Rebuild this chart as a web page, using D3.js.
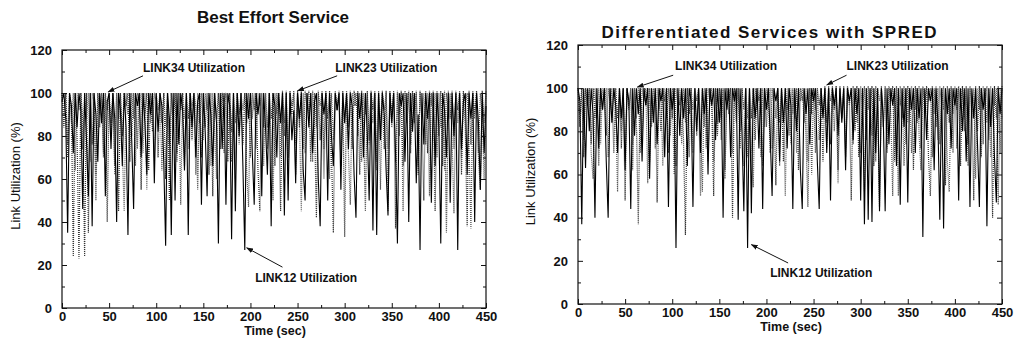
<!DOCTYPE html>
<html><head><meta charset="utf-8">
<script src="https://cdn.jsdelivr.net/npm/d3@7"></script>
<style>
body{margin:0;background:#fff;}
svg{display:block;}
text{font-family:"Liberation Sans",Arial,sans-serif;fill:#111;}
</style></head>
<body>
<svg id="c" width="1017" height="340"></svg>
<script>
// time axis: one sample every 2 s from 0 to 450
const timeStep = 2;
const xTicks = [0,50,100,150,200,250,300,350,400,450];
const yTicks = [0,20,40,60,80,100,120];
const titles = ["Best Effort Service", "Differentiated Services with SPRED"];

// ---- Best Effort Service ----
const beLink12 = [
96,100,88,35,100,94,72,100,84,100,
92,46,100,78,52,100,38,100,90,68,
100,86,100,52,96,100,74,100,88,40,
100,92,66,100,84,34,100,78,46,100,
94,100,70,100,86,62,100,90,100,58,
100,82,100,94,68,29,100,88,34,100,
50,100,76,100,92,64,100,34,100,84,
100,70,96,100,48,100,82,52,100,90,
66,100,86,30,100,74,100,48,100,94,
32,100,45,100,80,100,66,27,100,88,
100,72,48,100,90,100,52,100,84,62,
100,38,100,94,70,100,86,100,43,100,
50,100,78,92,58,100,88,100,64,50,
100,84,100,72,96,100,60,38,100,90,
100,50,100,80,66,100,92,100,55,100,
86,100,74,100,94,62,42,100,88,100,
70,100,82,50,100,36,100,34,100,78,
100,90,64,43,100,86,100,72,30,100,
94,100,68,100,40,100,82,100,58,90,
27,100,76,100,88,100,49,100,66,100,
84,30,100,92,70,100,49,100,80,100,
27,100,74,96,100,62,100,88,100,40,
100,86,55,100,72,94];
const beLink23 = [
100,84,100,70,100,92,24,100,80,23,
100,88,24,100,35,100,76,100,62,100,
90,100,72,100,40,100,86,100,66,100,
45,100,80,100,94,100,68,100,88,100,
74,100,55,100,90,100,64,100,82,100,
96,70,100,86,100,60,100,50,100,84,
100,72,100,92,100,66,100,88,100,78,
100,94,55,100,70,100,84,100,62,100,
52,100,88,100,74,100,96,100,68,100,
82,100,60,100,90,100,76,100,86,100,
70,100,92,100,64,45,100,84,100,74,
100,88,100,66,100,92,45,101,80,101,
70,101,90,101,62,101,84,101,74,101,
94,101,68,101,86,42,101,78,101,60,
101,88,101,72,35,101,92,101,66,101,
33,101,84,101,74,101,94,101,62,101,
86,45,101,78,101,92,101,68,101,84,
101,74,101,45,101,90,101,37,101,80,
101,66,101,92,101,76,101,86,101,62,
101,88,50,101,72,101,94,101,45,101,
80,101,66,101,35,101,88,101,74,101,
92,101,62,101,84,38,101,76,101,90,
101,70,55,101,86,101];
const beLink34 = [
100,90,100,76,100,86,100,64,100,92,
100,74,100,88,100,68,100,96,50,100,
84,100,70,100,92,100,78,100,62,100,
88,100,74,45,100,90,100,80,100,66,
100,94,100,72,100,55,100,86,100,70,
100,92,100,64,100,84,100,76,100,90,
100,68,100,48,100,88,100,74,100,94,
100,62,100,86,100,78,100,92,100,66,
100,84,60,100,90,100,72,100,96,100,
68,100,86,100,76,100,92,100,64,47,
100,88,100,74,100,94,100,66,100,84,
100,78,50,100,90,100,70,100,86,100,
62,100,94,100,76,100,88,45,100,72,
100,90,100,68,100,84,100,94,100,74,
100,86,60,100,78,100,92,100,66,100,
88,100,72,48,100,94,100,80,100,68,
100,90,100,76,100,86,100,64,100,55,
100,92,100,74,100,84,100,68,100,90,
100,45,100,86,100,72,100,94,100,66,
100,88,100,76,100,52,100,90,100,70,
100,84,100,64,100,92,100,78,44,100,
86,100,70,100,94,100,76,37,100,88,
100,72,100,90,60,100];

// ---- Differentiated Services with SPRED ----
const dsLink12 = [
100,94,37,100,63,100,80,100,88,40,
100,72,100,90,100,66,40,100,84,100,
92,70,100,86,100,62,100,94,44,100,
78,100,88,100,66,100,92,100,58,100,
84,100,74,100,94,100,68,100,45,100,
90,100,26,100,78,100,86,100,64,100,
94,45,100,80,100,70,100,88,100,60,
100,92,100,76,100,84,100,40,100,90,
100,68,100,94,100,39,100,80,43,100,
26,100,42,100,86,100,72,100,44,100,
90,100,78,50,100,94,100,66,100,84,
100,72,100,92,44,100,80,100,62,44,
100,88,100,74,100,94,100,66,44,100,
86,100,70,100,48,100,92,100,78,100,
84,100,62,100,94,100,76,100,88,100,
48,100,37,100,39,100,38,100,70,100,
43,100,86,43,100,74,100,92,100,64,
100,46,100,82,100,47,100,90,100,70,
100,86,100,31,100,76,100,94,100,62,
100,84,39,100,35,100,88,100,72,100,
92,100,48,100,80,100,66,100,45,100,
86,100,74,45,100,90,100,36,100,82,
100,68,47,100,88,100];
const dsLink23 = [
100,82,100,68,100,92,100,74,100,86,
100,64,100,90,100,78,100,94,100,70,
100,86,100,72,100,48,100,90,100,62,
100,84,37,100,76,100,92,100,66,100,
88,100,47,100,80,100,94,100,70,100,
86,100,64,100,92,100,76,32,100,88,
100,70,100,94,100,50,100,82,100,66,
100,90,50,100,78,100,86,100,62,100,
94,100,40,100,84,100,72,100,90,100,
68,100,86,100,76,100,94,100,64,100,
82,100,70,100,92,55,100,84,100,66,
100,90,100,74,100,86,100,62,100,94,
100,78,45,100,88,100,70,100,92,100,
66,101,84,101,74,101,90,101,62,101,
86,101,72,101,94,48,101,80,101,68,
101,90,101,76,101,86,101,64,101,92,
45,101,82,101,70,101,94,101,66,101,
50,101,86,101,74,101,90,101,62,101,
84,101,72,101,94,101,68,50,101,88,
101,76,101,92,101,55,101,84,101,70,
101,90,101,64,101,86,101,74,101,94,
48,101,80,101,68,101,92,101,76,101,
40,101,86,101,70,101];
const dsLink34 = [
100,88,100,76,100,92,100,70,58,100,
86,100,74,100,94,100,68,100,84,100,
90,52,100,80,100,66,100,92,100,74,
100,86,100,70,100,94,100,56,100,82,
100,72,100,90,100,64,100,86,100,78,
100,60,100,92,100,74,100,84,100,68,
100,90,100,78,100,86,52,100,72,100,
94,100,66,100,84,100,76,100,58,100,
88,100,70,100,92,100,80,100,64,100,
86,100,74,54,100,90,100,68,100,82,
100,94,100,72,100,86,100,64,100,90,
50,100,78,100,88,100,70,100,94,100,
84,100,66,100,60,100,90,100,76,100,
88,100,72,100,94,100,80,100,56,100,
86,100,68,100,92,100,74,100,84,100,
70,100,52,100,90,100,78,100,66,100,
94,100,82,100,72,100,88,50,100,76,
100,92,100,64,100,84,100,70,100,90,
100,78,62,100,86,100,94,100,68,100,
82,100,74,100,90,100,66,52,100,88,
100,72,100,94,100,80,100,64,100,86,
100,58,100,90,100,74,100,84,100,68,
100,92,100,46,100,86];

// annotations in data units: [label, textT, textV, fromT, fromV, toT, toV]
const beNotes = [
  ["LINK34 Utilization", 86, 110, 86, 108, 49, 100.5],
  ["LINK23 Utilization", 290, 110, 292, 108, 250, 101],
  ["LINK12 Utilization", 205, 12, 234, 19, 196, 28]
];
const dsNotes = [
  ["LINK34 Utilization", 103, 108.5, 101, 106, 63, 100.5],
  ["LINK23 Utilization", 285, 108.5, 285, 106, 264, 101.5],
  ["LINK12 Utilization", 204, 12.5, 223, 19, 184, 27.5]
];

const svg = d3.select("#c");
const defs = svg.append("defs");
defs.append("marker").attr("id","ah").attr("viewBox","0 0 10 10")
  .attr("refX",9).attr("refY",5).attr("markerWidth",7).attr("markerHeight",7)
  .attr("markerUnits","userSpaceOnUse").attr("orient","auto")
  .append("path").attr("d","M0,1.5 L10,5 L0,8.5 Z").attr("fill","#111");

function panel(cfg){
  const g = svg.append("g");
  const x = d3.scaleLinear().domain([0,450]).range([cfg.x0, cfg.x1]);
  const y = d3.scaleLinear().domain([0,120]).range([cfg.y0, cfg.y1]);

  const line = d3.line().x((d,i)=>x(i*timeStep)).y(d=>y(d));
  const styles = [
    {data: cfg.s34, stroke:"#5a5a5a", dash:"1,1", w:1.2},
    {data: cfg.s23, stroke:"#333", dash:"1,1", w:1.2},
    {data: cfg.s12, stroke:"#000", dash:null, w:1.1}
  ];
  styles.forEach(s=>{
    g.append("path").datum(s.data).attr("d",line).attr("fill","none")
      .attr("stroke",s.stroke).attr("stroke-width",s.w)
      .attr("stroke-dasharray",s.dash);
  });

  // frame
  g.append("rect").attr("x",cfg.x0).attr("y",cfg.y1)
    .attr("width",cfg.x1-cfg.x0).attr("height",cfg.y0-cfg.y1)
    .attr("fill","none").attr("stroke","#111").attr("stroke-width",1.2);

  const minorX = d3.range(25,450,50);
  const minorY = d3.range(10,120,20);
  const fmt = d3.format("d");
  g.append("g").attr("transform",`translate(0,${cfg.y0})`)
    .call(d3.axisBottom(x).tickValues(xTicks).tickFormat(fmt).tickSize(-5).tickPadding(4));
  g.append("g").attr("transform",`translate(0,${cfg.y0})`)
    .call(d3.axisBottom(x).tickValues(minorX).tickFormat("").tickSize(-3));
  g.append("g").attr("transform",`translate(0,${cfg.y1})`)
    .call(d3.axisTop(x).tickValues(xTicks).tickFormat("").tickSize(-5));
  g.append("g").attr("transform",`translate(0,${cfg.y1})`)
    .call(d3.axisTop(x).tickValues(minorX).tickFormat("").tickSize(-3));
  g.append("g").attr("transform",`translate(${cfg.x0},0)`)
    .call(d3.axisLeft(y).tickValues(yTicks).tickFormat(fmt).tickSize(-5).tickPadding(10));
  g.append("g").attr("transform",`translate(${cfg.x0},0)`)
    .call(d3.axisLeft(y).tickValues(minorY).tickFormat("").tickSize(-3));
  g.append("g").attr("transform",`translate(${cfg.x1},0)`)
    .call(d3.axisRight(y).tickValues(yTicks).tickFormat("").tickSize(-5));
  g.append("g").attr("transform",`translate(${cfg.x1},0)`)
    .call(d3.axisRight(y).tickValues(minorY).tickFormat("").tickSize(-3));
  g.selectAll(".domain").remove();
  g.selectAll(".tick line").attr("stroke","#111");
  g.selectAll(".tick text").attr("font-size",13).attr("font-weight","bold")
    .attr("fill","#111").style("font-family","'Liberation Sans',Arial,sans-serif");

  // titles and axis labels
  const t = g.append("text").attr("x",cfg.titleX).attr("y",cfg.titleY).attr("text-anchor","middle")
    .attr("font-size",cfg.titleSize).attr("font-weight","bold").text(cfg.title);
  if (cfg.titleLen) t.attr("textLength",cfg.titleLen).attr("lengthAdjust","spacing");
  g.append("text").attr("x",(cfg.x0+cfg.x1)/2+1).attr("y",cfg.y0+27).attr("text-anchor","middle")
    .attr("font-size",12.5).attr("font-weight","bold").text("Time (sec)");
  g.append("text").attr("transform",`translate(${cfg.ylabX},${(cfg.y0+cfg.y1)/2-3}) rotate(-90)`)
    .attr("text-anchor","middle").attr("font-size",13)
    .style("font-family","'Liberation Sans Narrow','Liberation Sans',Arial,sans-serif")
    .text("Link Utilization (%)");

  // annotations
  cfg.notes.forEach(n=>{
    g.append("line").attr("x1",x(n[3])).attr("y1",y(n[4])).attr("x2",x(n[5])).attr("y2",y(n[6]))
      .attr("stroke","#111").attr("stroke-width",1).attr("marker-end","url(#ah)");
    g.append("text").attr("x",x(n[1])).attr("y",y(n[2])).attr("font-size",12)
      .attr("font-weight","bold").text(n[0]);
  });
}

panel({x0:62,x1:486,y0:308,y1:50,s12:beLink12,s23:beLink23,s34:beLink34,
  title:titles[0],titleX:273,titleY:23,titleSize:17,titleLen:null,ylabX:20,notes:beNotes});
panel({x0:578,x1:1002,y0:304,y1:45,s12:dsLink12,s23:dsLink23,s34:dsLink34,
  title:titles[1],titleX:769,titleY:38,titleSize:17,titleLen:335,ylabX:535,notes:dsNotes});
</script>
</body></html>
